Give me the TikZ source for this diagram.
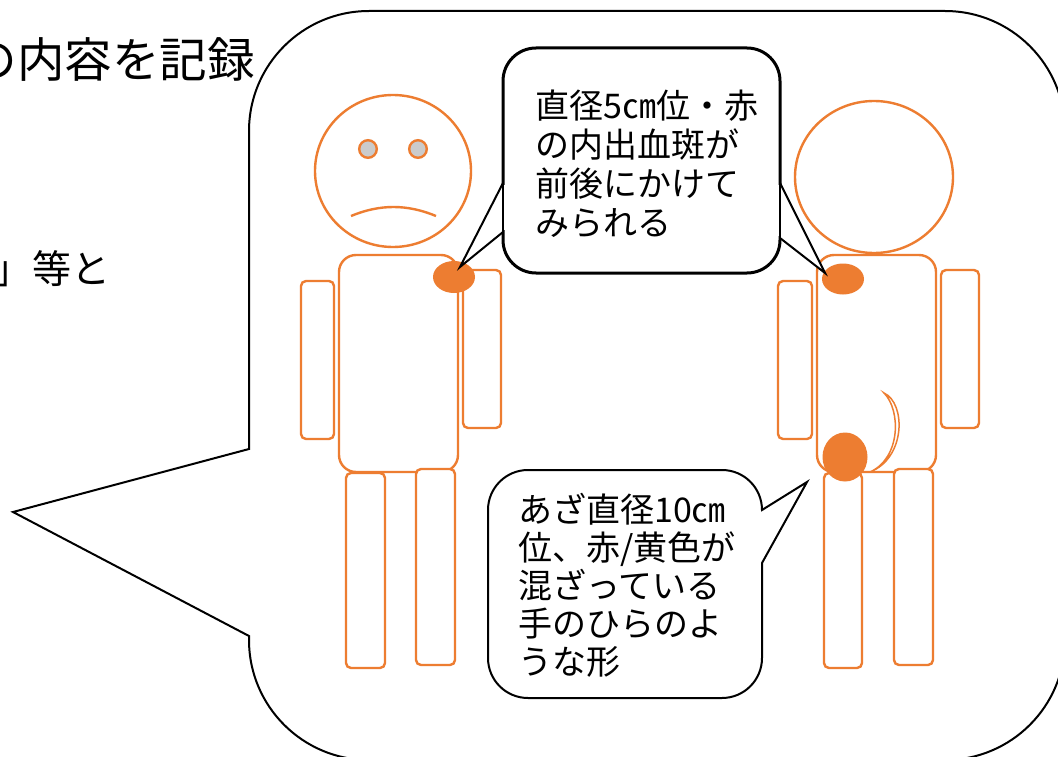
\documentclass[tikz,border=0pt]{standalone}
\usepackage{fontspec}
\newfontfamily\jpfont{Noto Sans CJK JP}
\definecolor{bodyorange}{HTML}{ED7D31}
\definecolor{eyegrey}{HTML}{CBCBCB}
\begin{document}
\begin{tikzpicture}[x=1pt,y=-1pt,
  outline/.style={draw=bodyorange,line width=2.4pt,fill=white},
  limb/.style={outline,rounded corners=5pt},
  trunk/.style={outline,rounded corners=17pt},
  eye/.style={draw=bodyorange,line width=2.4pt,fill=eyegrey},
  bruise/.style={fill=bodyorange,draw=none},
  balloon/.style={draw=black,line width=2pt,fill=white,line join=miter},
  pointer/.style={draw=black,line width=2pt,line join=miter},
  notebox/.style={draw=black,line width=3pt,fill=white,rectangle,inner sep=0pt},
  plaintext/.style={inner sep=0pt,font=\jpfont\fontsize{47.5}{56}\selectfont},
  notetext/.style={inner sep=0pt,anchor=base west,text width=280pt,align=left},
]
\useasboundingbox (0,0) rectangle (1058,757);
\clip (0,0) rectangle (1058,757);

% text of the page behind the balloon
\node[plaintext,anchor=base east] (topline) at (255,78) {の内容を記録};
\node[plaintext,anchor=base west,font=\jpfont\fontsize{39}{47}\selectfont] (midline) at (-7,283) {」等と};

% large speech balloon pointing left
\draw[balloon] (249,449) -- (249,131) arc[start angle=180,end angle=270,radius=120]
  -- (945,11) arc[start angle=270,end angle=360,radius=120]
  -- (1065,640) arc[start angle=0,end angle=90,radius=120]
  -- (369,760) arc[start angle=90,end angle=180,radius=120]
  -- (249,636) -- (13,512) -- cycle;

% left figure (front view, sad face)
\draw[trunk] (339,255) rectangle (458,472);
\draw[limb] (346,473) rectangle (385,668);
\draw[limb] (416,469) rectangle (455,665);
\draw[limb] (301,281) rectangle (334,439);
\draw[limb] (463,270) rectangle (501,428);
\draw[outline] (393,171) ellipse[x radius=78, y radius=76];
\draw[eye] (368,149) circle[radius=8.8];
\draw[eye] (418,149) circle[radius=8.8];
\draw[draw=bodyorange,line width=2.4pt] (351,216) .. controls (380,204) and (407,204) .. (436,216);
\fill[bruise] (454,277) ellipse[x radius=21, y radius=16];

% right figure (back view)
\draw[trunk] (817,255) rectangle (936,472);
\draw[limb] (824,473) rectangle (862,668);
\draw[limb] (894,469) rectangle (933,665);
\draw[limb] (778,281) rectangle (812,439);
\draw[limb] (941,270) rectangle (979,428);
\draw[outline] (874,177) ellipse[x radius=79, y radius=76];
\draw[draw=bodyorange,line width=1.5pt,fill=white]
  (884,393) .. controls (906,403) and (906,458) .. (870,472)
  .. controls (901,458) and (901,410) .. (884,393) -- cycle;
\fill[bruise] (843,279) ellipse[x radius=21, y radius=15.5];
\fill[bruise] (845,457) ellipse[x radius=22.5, y radius=24.5];

% upper note with two pointers
\node[notebox,minimum width=277pt,minimum height=225pt,rounded corners=33pt] (noteA) at (641.5,160.5) {};
\fill[white] (503,183) -- (460,267) -- (503,232) -- cycle;
\fill[white] (780,183) -- (825,273) -- (780,238) -- cycle;
\draw[white,line width=4pt] (503,185) -- (503,230);
\draw[white,line width=4pt] (780,185) -- (780,236);
\draw[line width=1.2pt] (503,183) -- (503,232);
\draw[line width=1.2pt] (780,183) -- (780,238);
\draw[pointer] (503,183) -- (460,267) -- (503,232);
\draw[pointer] (780,183) -- (825,273) -- (780,238);
\node[notetext,font=\jpfont\fontsize{34}{39.1}\selectfont] (noteAtext) at (535,118.7)
  {直径5㎝位・赤\\の内出血斑が\\前後にかけて\\みられる};

% lower note pointing to the hip
\draw[balloon] (762,563) -- (762,658) arc[start angle=0,end angle=90,radius=40]
  -- (528,698) arc[start angle=90,end angle=180,radius=40]
  -- (488,510) arc[start angle=180,end angle=270,radius=40]
  -- (722,470) arc[start angle=270,end angle=360,radius=40]
  -- (807,482) -- cycle;
\node[notetext,font=\jpfont\fontsize{34}{38}\selectfont] (noteBtext) at (518,522)
  {あざ直径10㎝\\位、赤/黄色が\\混ざっている\\手のひらのよ\\うな形};
\end{tikzpicture}
\end{document}
